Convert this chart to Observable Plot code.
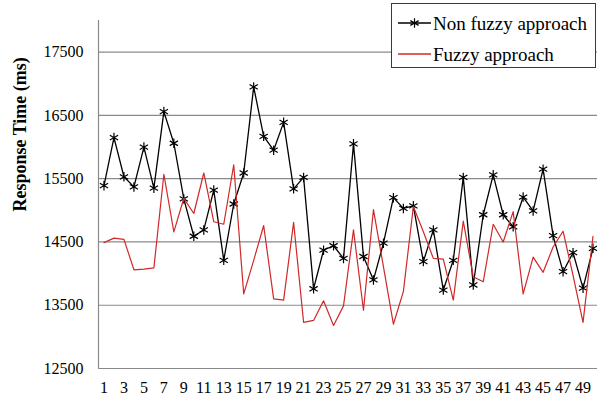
<!DOCTYPE html>
<html><head><meta charset="utf-8">
<script src="https://cdn.jsdelivr.net/npm/d3@7"></script>
<script src="https://cdn.jsdelivr.net/npm/@observablehq/plot@0.6"></script>
<style>
body{margin:0;background:#fff;}
#wrap{position:relative;width:597px;height:398px;overflow:hidden;}
#legend{position:absolute;left:391px;top:3px;width:203px;height:63px;border:1.5px solid #3a3a3a;background:#fff;}
#legend svg{display:block;}
</style>
</head><body>
<div id="wrap"><div id="legend"></div></div>
<script>
const runs = [1,2,3,4,5,6,7,8,9,10,11,12,13,14,15,16,17,18,19,20,21,22,23,24,25,26,27,28,29,30,31,32,33,34,35,36,37,38,39,40,41,42,43,44,45,46,47,48,49,50];
const nonFuzzy = [15390,16150,15530,15370,16000,15350,16560,16060,15180,14590,
                  14690,15320,14210,15100,15590,16950,16170,15950,16390,15340,
                  15520,13760,14370,14440,14240,16050,14270,13900,14480,15200,
                  15030,15070,14190,14690,13740,14210,15520,13820,14930,15560,
                  14930,14740,15210,14990,15650,14600,14030,14330,13770,14400];
const fuzzy = [14490,14560,14540,14060,14070,14090,15570,14660,15190,14950,
               15590,14820,14780,15720,13680,14210,14760,13600,13580,14810,
               13230,13260,13570,13180,13490,14690,13420,15010,14110,13200,
               13720,15060,14660,14240,14230,13580,14830,13950,13870,14780,
               14500,14980,13680,14260,14020,14420,14670,13970,13230,14590];
const yTicks = [12500,13500,14500,15500,16500,17500];
const xTicks = [1,3,5,7,9,11,13,15,17,19,21,23,25,27,29,31,33,35,37,39,41,43,45,47,49];
const seriesNames = ["Non fuzzy approach","Fuzzy approach"];
const yLabel = "Response Time (ms)";
const colors = ["#000000","#d02828"];

const d1 = runs.map((r,i)=>({run:r, v:nonFuzzy[i]}));
const d2 = runs.map((r,i)=>({run:r, v:fuzzy[i]}));

const chart = Plot.plot({
  width:597, height:398,
  marginLeft:98, marginRight:0, marginTop:20, marginBottom:30,
  x:{domain:[0.45,50.45]},
  y:{domain:[12500,18000]},
  style:{fontFamily:"'Liberation Serif','Times New Roman',serif", fontSize:"16px", color:"#000", background:"transparent"},
  marks:[
    Plot.gridY(yTicks,{stroke:"#8a8a8a", strokeOpacity:1, strokeWidth:1.2}),
    Plot.ruleX([0.45],{stroke:"#8a8a8a", strokeWidth:1.2}),
    Plot.axisY(yTicks,{tickSize:0, tickPadding:15, label:null, fontSize:16, tickFormat:d=>String(d)}),
    Plot.axisX(xTicks,{tickSize:0, tickPadding:13, label:null, fontSize:16}),
    Plot.line(d1,{x:"run", y:"v", stroke:colors[0], strokeWidth:1.3}),
    Plot.dot(d1,{x:"run", y:"v", symbol:"asterisk", stroke:colors[0], r:4.5, strokeWidth:1.2}),
    Plot.line(d2,{x:"run", y:"v", stroke:colors[1], strokeWidth:1.2}),
    Plot.text([yLabel],{frameAnchor:"left", rotate:-90, dx:-78, dy:17, fontWeight:"bold", fontSize:18})
  ]
});
document.getElementById("wrap").insertBefore(chart, document.getElementById("legend"));

// legend
const lg = d3.select("#legend").append("svg").attr("width",203).attr("height",63)
  .style("font-family","'Liberation Serif','Times New Roman',serif").style("font-size","19px");
const rows = [19, 50];
seriesNames.forEach((name,i)=>{
  lg.append("line").attr("x1",6).attr("x2",39).attr("y1",rows[i]).attr("y2",rows[i])
    .attr("stroke",colors[i]).attr("stroke-width",1.3);
  if(i===0){
    lg.append("path").attr("transform",`translate(22.5,${rows[i]})`)
      .attr("d", d3.symbol(d3.symbolAsterisk, Math.PI*4.5*4.5)())
      .attr("stroke",colors[0]).attr("fill","none").attr("stroke-width",1.2);
  }
  lg.append("text").attr("x",41).attr("y",rows[i]).attr("dy","0.35em").text(name);
});
</script>
</body></html>
